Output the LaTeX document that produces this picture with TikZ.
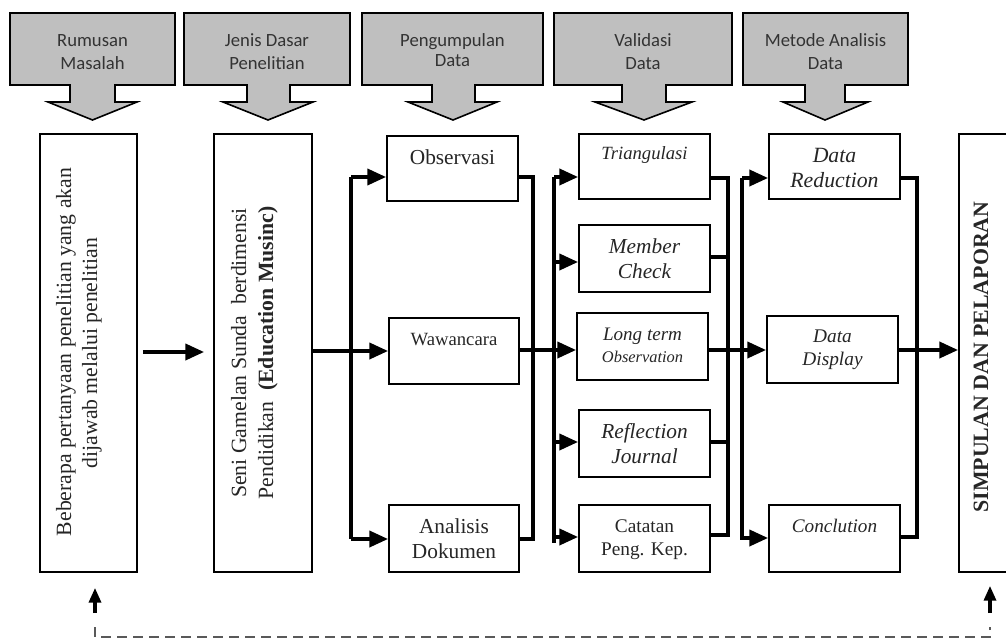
\documentclass[tikz,border=0pt]{standalone}
\usepackage{fontspec}
\setmainfont{Liberation Serif}
\newfontfamily\calib{Carlito}
\usetikzlibrary{arrows.meta}
\definecolor{calgray}{HTML}{BFBFBF}
\definecolor{txtc}{HTML}{262626}
\newcommand\mybox[5]{\node[boxst, minimum width={(#4-#2)*0.75pt}, minimum height={(#5-#3)*0.75pt}] (#1) at ({(#2+#4)/2},{(#3+#5)/2}) {};}
\newcommand\callout[9]{%
  \draw[callst] (#2,13) -- (#3,13) -- (#3,85) -- (#5,85) -- (#5,102) -- (#7,102) -- (#8,120) -- (#6,102) -- (#4,102) -- (#4,85) -- (#2,85) -- cycle;
  \node[calltxt] (#1a) at ({(#2+#3)/2},47) {#9};}
\begin{document}
\begin{tikzpicture}[x=0.75pt,y=-0.75pt,
  callst/.style={draw=black, line width=1.2pt, fill=calgray, line join=miter},
  calltxt/.style={anchor=base, font=\calib\fontsize{14}{17}\selectfont, text=black!80},
  boxst/.style={draw=black, line width=1.4pt, inner sep=0pt, fill=white},
  tx/.style={anchor=base, inner sep=0pt, text=txtc},
  conn/.style={line width=2.7pt, line join=miter, line cap=butt},
  arr/.style={conn, -{Triangle[length=14pt,width=12pt]}},
  uparr/.style={line width=2.4pt, -{Triangle[length=11pt,width=9pt]}},
  fb/.style={line width=1.4pt, black!65, dash pattern=on 7.5pt off 4.5pt}
]
\useasboundingbox (0,0) rectangle (1006,638);
\clip (0,0) rectangle (1006,638);

% top callouts
\callout{c1}{10}{175}{70}{115}{48}{137}{92.5}{Rumusan}
\node[calltxt] (c1b) at (92.5,70) {Masalah};
\callout{c2}{184}{350}{247}{290}{223}{313}{268}{Jenis Dasar}
\node[calltxt] (c2b) at (267,70) {Penelitian};
\callout{c3}{362}{543}{432}{475}{408}{497}{453}{Pengumpulan}
\node[calltxt] (c3b) at (452.5,67) {Data};
\callout{c4}{554}{732}{622}{666}{595}{692}{644}{Validasi}
\node[calltxt] (c4b) at (643,70) {Data};
\callout{c5}{743}{908}{805}{845}{783}{868}{825}{Metode Analisis}
\node[calltxt] (c5b) at (825.5,70) {Data};

% boxes
\mybox{A}{40}{134}{137}{572}
\mybox{B}{214}{134}{312}{572}
\mybox{obs}{387}{136}{518}{201}
\mybox{waw}{389}{318}{519}{384}
\mybox{ana}{389}{505}{519}{572}
\mybox{tri}{579}{134}{710}{199}
\mybox{mem}{579}{225}{710}{292}
\mybox{lon}{577}{313}{708}{380}
\mybox{ref}{579}{410}{710}{477}
\mybox{cat}{579}{505}{710}{572}
\mybox{red}{769}{134}{900}{199}
\mybox{dis}{767}{316}{898}{383}
\mybox{con}{769}{505}{900}{572}
\mybox{fin}{959}{134}{1040}{572}

% texts
\node[tx, rotate=90, font=\fontsize{16.3}{19}\selectfont] (tA1) at (71,352) {Beberapa pertanyaan penelitian yang akan};
\node[tx, rotate=90, font=\fontsize{16.3}{19}\selectfont] (tA2) at (97,353) {dijawab melalui penelitian};
\node[tx, rotate=90, font=\fontsize{16.3}{19}\selectfont] (tB1) at (246,353) {Seni Gamelan Sunda\ \ berdimensi};
\node[tx, rotate=90, font=\fontsize{16.3}{19}\selectfont] (tB2) at (273,353) {Pendidikan\ \ \textbf{(Education Musinc)}};
\node[tx, rotate=90, font=\bfseries\fontsize{16.4}{19}\selectfont] (tF) at (988,357) {SIMPULAN DAN PELAPORAN};

\node[tx, font=\fontsize{16}{19}\selectfont] (tObs) at (452.5,165) {Observasi};
\node[tx, font=\fontsize{14}{17}\selectfont] (tWaw) at (454,345) {Wawancara};
\node[tx, font=\fontsize{16}{19}\selectfont] (tAna1) at (454,533) {Analisis};
\node[tx, font=\fontsize{16}{19}\selectfont] (tAna2) at (454,558) {Dokumen};

\node[tx, font=\itshape\fontsize{14}{17}\selectfont] (tTri) at (644.5,160) {Triangulasi};
\node[tx, font=\itshape\fontsize{16}{19}\selectfont] (tMem1) at (644.5,253) {Member};
\node[tx, font=\itshape\fontsize{16}{19}\selectfont] (tMem2) at (644.5,278) {Check};
\node[tx, font=\itshape\fontsize{14.3}{17}\selectfont] (tLon1) at (642.5,340) {Long term};
\node[tx, font=\itshape\fontsize{12.3}{15}\selectfont] (tLon2) at (642.5,362) {Observation};
\node[tx, font=\itshape\fontsize{16}{19}\selectfont] (tRef1) at (644.5,438) {Reflection};
\node[tx, font=\itshape\fontsize{16}{19}\selectfont] (tRef2) at (644.5,463) {Journal};
\node[tx, font=\fontsize{14.5}{17}\selectfont] (tCat1) at (644.5,532) {Catatan};
\node[tx, font=\fontsize{14.5}{17}\selectfont] (tCat2) at (644.5,555) {Peng. Kep.};

\node[tx, font=\itshape\fontsize{16.3}{19}\selectfont] (tRed1) at (834.5,162) {Data};
\node[tx, font=\itshape\fontsize{16.3}{19}\selectfont] (tRed2) at (834.5,188) {Reduction};
\node[tx, font=\itshape\fontsize{14.5}{17}\selectfont] (tDis1) at (832.5,342) {Data};
\node[tx, font=\itshape\fontsize{14.5}{17}\selectfont] (tDis2) at (832.5,365) {Display};
\node[tx, font=\itshape\fontsize{14.4}{17}\selectfont] (tCon) at (834.5,532) {Conclution};

% bus coordinates
\coordinate (b1t) at (351,177);  \coordinate (b1b) at (351,539);
\coordinate (b2t) at (533,177);  \coordinate (b2b) at (533,539);
\coordinate (b3t) at (554,177);  \coordinate (b3b) at (554,543);
\coordinate (b4t) at (728,178);  \coordinate (b4b) at (728,535);
\coordinate (b5t) at (742,178);  \coordinate (b5b) at (742,540);
\coordinate (b6t) at (917,178);  \coordinate (b6b) at (917,537);

% connectors
\draw[arr, shorten <=3.75pt, shorten >=6.75pt] (A.east |- 0,352) -- (B.west |- 0,352);
\draw[arr] (B.east |- 0,351) -- (waw.west |- 0,351);
\draw[conn] (b1t) -- (b1b);
\draw[arr] (b1t) -- (obs.west |- b1t);
\draw[arr] (b1b) -- (ana.west |- b1b);

\draw[conn] (obs.east |- b2t) -- (b2t) -- (b2b) -- (ana.east |- b2b);
\draw[arr] (waw.east |- 0,350) -- (lon.west |- 0,350);
\draw[conn] (b3t) -- (b3b);
\draw[arr] (b3t) -- (tri.west |- b3t);
\draw[arr] (554,262) -- (mem.west |- 0,262);
\draw[arr] (554,442) -- (ref.west |- 0,442);
\draw[arr] (554,537) -- (cat.west |- 0,537);

\draw[conn] (tri.east |- b4t) -- (b4t) -- (b4b) -- (cat.east |- b4b);
\draw[conn] (mem.east |- 0,257) -- (728,257);
\draw[conn] (ref.east |- 0,442) -- (728,442);
\draw[arr] (lon.east |- 0,350) -- (dis.west |- 0,350);
\draw[conn] (b5t) -- (b5b);
\draw[arr] (b5t) -- (red.west |- b5t);
\draw[arr] (742,538) -- (con.west |- 0,538);

\draw[conn] (red.east |- b6t) -- (b6t) -- (b6b) -- (con.east |- b6b);
\draw[arr] (dis.east |- 0,350) -- (fin.west |- 0,350);

% feedback
\coordinate (fbL) at (95,627);
\coordinate (fbR) at (990,627);
\coordinate (fbLb) at (95,637);
\coordinate (fbRb) at (990,637);
\coordinate (uaL) at (95,613);
\coordinate (uaR) at (990,613);
\draw[uparr, shorten >=15*0.75pt] (uaL) -- (A.south -| uaL);
\draw[uparr, shorten >=13*0.75pt] (uaR) -- (fin.south -| uaR);
\draw[fb] (fbL) -- (fbLb) -- (fbRb) -- (fbR);
\end{tikzpicture}
\end{document}
